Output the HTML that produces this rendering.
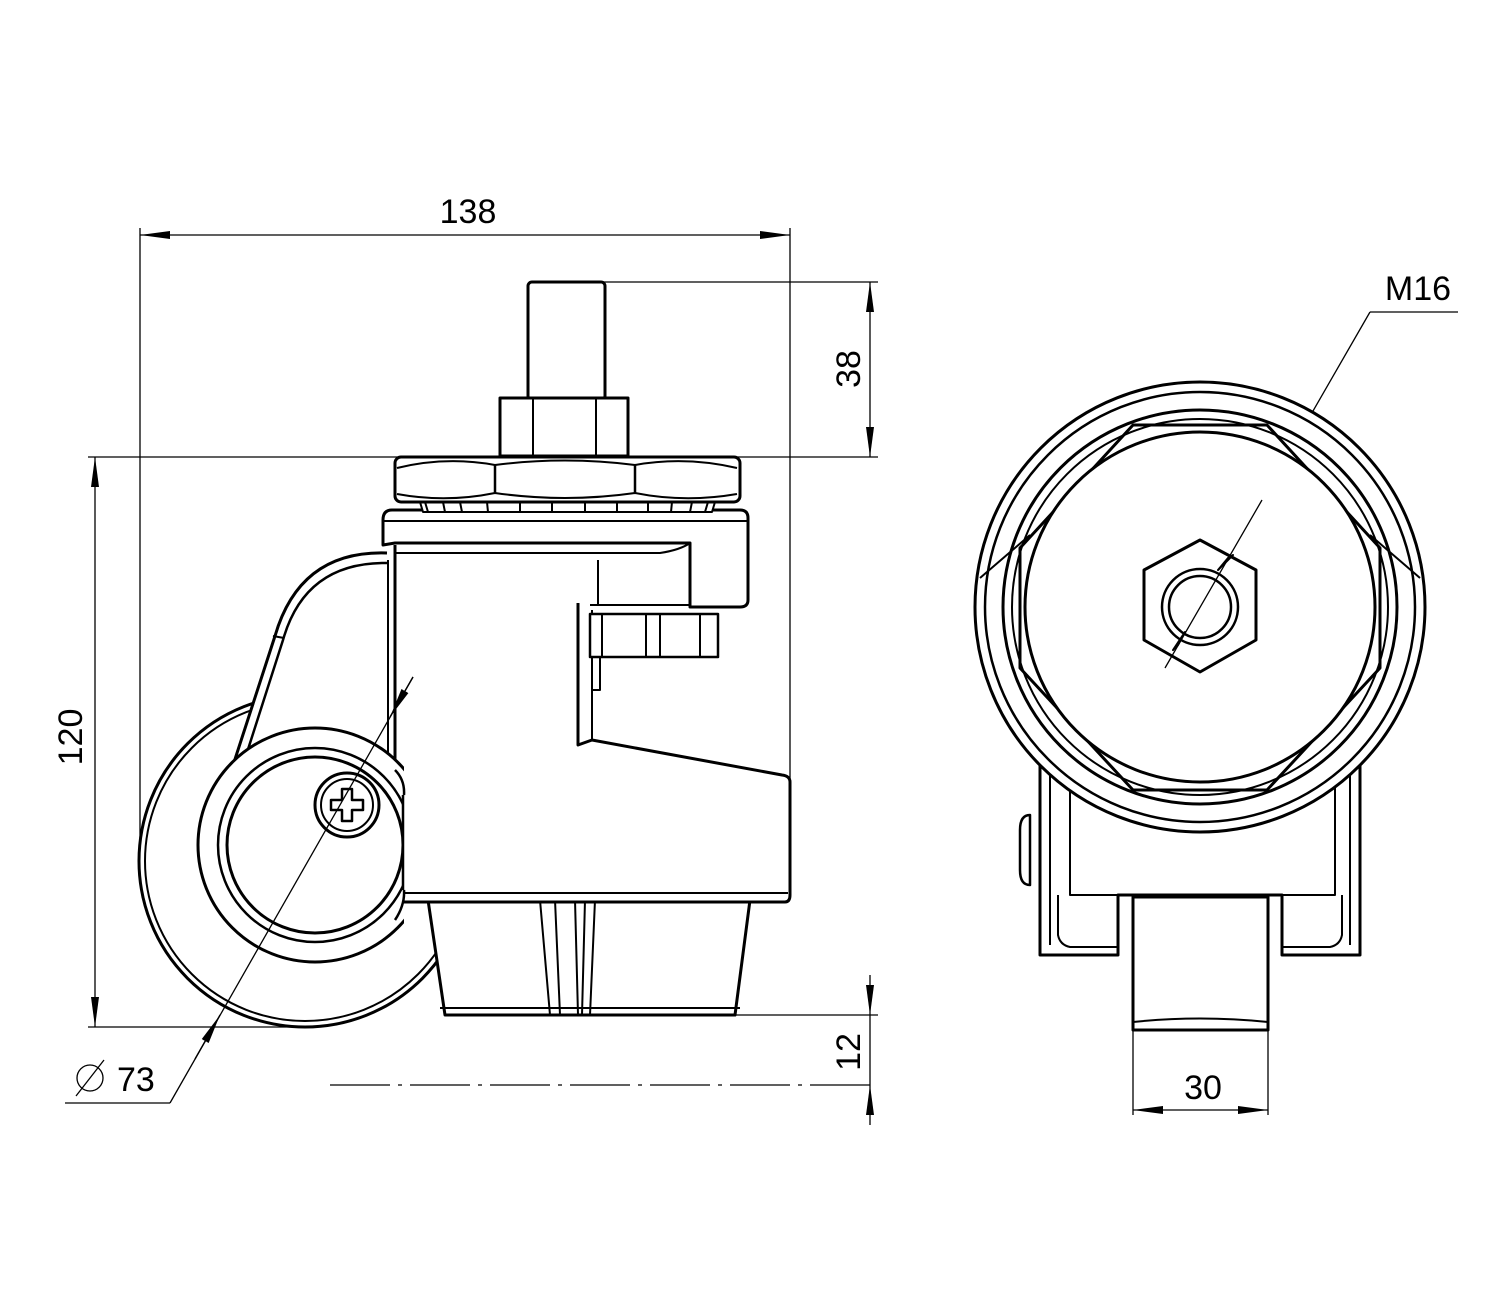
<!DOCTYPE html>
<html><head><meta charset="utf-8"><style>
html,body{margin:0;padding:0;background:#fff}
svg{display:block}
text{font-family:"Liberation Sans",sans-serif;font-size:34px;fill:#000}
</style></head><body>
<svg width="1500" height="1301" viewBox="0 0 1500 1301" xmlns="http://www.w3.org/2000/svg">
<defs>
<marker id="a" viewBox="0 0 30 10" refX="30" refY="5" markerWidth="30" markerHeight="10" markerUnits="userSpaceOnUse" orient="auto-start-reverse"><path d="M0,1 L30,5 L0,9 Z" fill="#000"/></marker>
<clipPath id="hc"><rect x="0" y="0" width="404" height="1301"/></clipPath>
</defs>
<g stroke="#000" stroke-width="1.3" fill="none">
<line x1="140" y1="228" x2="140" y2="860"/>
<line x1="790" y1="228" x2="790" y2="780"/>
<line x1="140" y1="235" x2="790" y2="235" marker-start="url(#a)" marker-end="url(#a)"/>
<line x1="540" y1="282" x2="878" y2="282"/>
<line x1="88" y1="457" x2="878" y2="457"/>
<line x1="870" y1="282" x2="870" y2="457" marker-start="url(#a)" marker-end="url(#a)"/>
<line x1="95" y1="457" x2="95" y2="1027" marker-start="url(#a)" marker-end="url(#a)"/>
<line x1="88" y1="1027" x2="310" y2="1027"/>
<line x1="720" y1="1015" x2="878" y2="1015"/>
<line x1="330" y1="1085" x2="878" y2="1085" stroke-dasharray="60 8 4 8"/>
<line x1="870" y1="975" x2="870" y2="1015" marker-end="url(#a)"/>
<line x1="870" y1="1125" x2="870" y2="1085" marker-end="url(#a)"/>
<line x1="870" y1="1015" x2="870" y2="1085"/>
<line x1="170" y1="1103" x2="65" y2="1103"/>
<circle cx="90" cy="1078" r="13"/><line x1="76" y1="1096" x2="104" y2="1060"/>
<line x1="1165" y1="668" x2="1370" y2="312"/>
<line x1="1370" y1="312" x2="1458" y2="312"/>
<line x1="1133" y1="1030" x2="1133" y2="1115"/>
<line x1="1268" y1="1030" x2="1268" y2="1115"/>
<line x1="1133" y1="1110" x2="1268" y2="1110" marker-start="url(#a)" marker-end="url(#a)"/>
</g>
<text x="468" y="223" text-anchor="middle">138</text>
<text transform="translate(860,369) rotate(-90)" text-anchor="middle">38</text>
<text transform="translate(82,737) rotate(-90)" text-anchor="middle">120</text>
<text transform="translate(860,1052) rotate(-90)" text-anchor="middle">12</text>
<text x="117" y="1091">73</text>
<text x="1418" y="300" text-anchor="middle">M16</text>
<text x="1203" y="1099" text-anchor="middle">30</text>

<g stroke="#000" stroke-width="3" fill="#fff" stroke-linejoin="round">
<!-- wheel -->
<circle cx="305" cy="861" r="166"/>
<circle cx="305" cy="861" r="160" stroke-width="2"/>
<!-- base -->
<path d="M428,900 L750,900 L735,1015 L445,1015 Z"/>
<line x1="440" y1="1008" x2="740" y2="1008" stroke-width="2"/>
<path d="M540,900 L550,1015 M555,900 L560,1015 M575,900 L578,1015 M585,900 L582,1015 M595,900 L590,1015" fill="none" stroke-width="2"/>
<!-- arm interior fill (hides wheel) -->
<path d="M387,553 Q300,555 275,636 L225,790 L300,790 L400,790 L400,553 Z" stroke="none"/>
<!-- body -->
<path d="M395,545 L395,902 L790,902 L790,780 L590,745 L590,603 L395,603 Z" stroke="none"/>
<path d="M395,545 L395,898 Q395,902 400,902 L785,902 Q790,902 790,895 L790,782 Q790,776 782,775 L592,740 L578,745 L578,603" fill="none"/>
<line x1="405" y1="893" x2="788" y2="893" stroke-width="2"/>
<line x1="388" y1="560" x2="388" y2="770" stroke-width="2"/>
<path d="M592,740 L592,610" fill="none" stroke-width="2"/>
<!-- arm band -->
<path d="M387,553 Q300,550 275,636 L225,790" fill="none"/>
<path d="M387,563 Q305,562 283,640 L235,790" fill="none" stroke-width="2.5"/>
<line x1="273" y1="636" x2="284" y2="638" stroke-width="2"/>
<!-- top plate -->
<path d="M392,510 L740,510 Q748,510 748,518 L748,600 Q748,607 740,607 L690,607 L690,543 L395,543 L383,545 L383,520 Q383,510 392,510 Z"/>
<line x1="383" y1="521" x2="748" y2="521" stroke-width="2"/>
<path d="M395,553 L660,553 Q680,550 690,543" fill="none" stroke-width="2"/>
<path d="M598,560 L598,605 M590,605 L690,605" fill="none" stroke-width="2"/>
<rect x="590" y="614" width="128" height="43" stroke-width="2.5"/>
<path d="M602,614 L602,657 M646,614 L646,657 M660,614 L660,657 M700,614 L700,657 M600,657 L600,690 L593,690" fill="none" stroke-width="2"/>
<!-- washer teeth -->
<path d="M420,502 L715,502 L712,512 L423,512 Z" stroke-width="2"/>
<path d="M425,502 L428,512 M443,502 L445,512 M460,502 L462,512 M487,502 L488,512 M520,502 L520,512 M552,502 L552,512 M585,502 L585,512 M617,502 L617,512 M648,502 L648,512 M672,502 L671,512 M692,502 L690,512 M708,502 L705,512" fill="none" stroke-width="2"/>
<!-- large nut -->
<rect x="395" y="457" width="345" height="45" rx="6"/>
<path d="M397,468 Q446,456 495,465 Q565,456 635,465 Q685,456 737,468" fill="none" stroke-width="2"/>
<path d="M397,494 Q446,503 495,493 Q565,503 635,493 Q685,503 737,494" fill="none" stroke-width="2"/>
<path d="M495,465 L495,493 M635,465 L635,493" fill="none" stroke-width="2.5"/>
<!-- stud & small nut -->
<rect x="528" y="282" width="77" height="118" rx="4"/>
<rect x="500" y="398" width="128" height="58"/>
<line x1="533" y1="398" x2="533" y2="456" stroke-width="2"/>
<line x1="596" y1="398" x2="596" y2="456" stroke-width="2"/>
<!-- hub -->
<g clip-path="url(#hc)">
<circle cx="315" cy="845" r="117"/>
<circle cx="315" cy="845" r="97" stroke-width="2.5"/>
<circle cx="315" cy="845" r="88"/>
</g>
<path d="M395,770 Q405,780 404,795 M395,920 Q405,905 404,890" fill="none" stroke-width="2.5"/>
<line x1="403" y1="795" x2="403" y2="890" stroke-width="2.5"/>
<circle cx="347" cy="805" r="32"/>
<circle cx="347" cy="805" r="26" stroke-width="2"/>
<path d="M342,789 h10 v11 h11 v10 h-11 v11 h-10 v-11 h-11 v-10 h11 Z" stroke-width="2.5"/>
</g>
<g stroke="#000" stroke-width="1.3" fill="none">
<line x1="413" y1="677" x2="170" y2="1103"/>
<line x1="413" y1="677" x2="390" y2="717" marker-end="url(#a)"/>
<line x1="195" y1="1059" x2="220" y2="1015" marker-end="url(#a)"/>
</g>

<g stroke="#000" stroke-width="3" fill="#fff" stroke-linejoin="round">
<!-- right view -->
<path d="M1040,760 L1040,955 L1118,955 L1118,895 L1282,895 L1282,955 L1360,955 L1360,760 Z"/>
<path d="M1050,775 L1050,945 M1350,775 L1350,945 M1070,780 L1070,895 L1335,895 L1335,780" fill="none" stroke-width="2"/>
<path d="M1058,895 L1058,935 Q1060,945 1070,947 L1118,947 M1342,895 L1342,935 Q1340,945 1330,947 L1282,947" fill="none" stroke-width="2"/>
<path d="M1030,815 Q1020,815 1020,830 L1020,870 Q1020,885 1030,885 Z" stroke-width="2.5"/>
<rect x="1133" y="897" width="135" height="133"/>
<path d="M1133,1022 Q1200,1015 1268,1022" fill="none" stroke-width="2"/>
<circle cx="1200" cy="607" r="225"/>
<circle cx="1200" cy="607" r="215" stroke-width="2.5"/>
<circle cx="1200" cy="607" r="197"/>
<circle cx="1200" cy="607" r="188" stroke-width="2"/>
<path d="M1133,425 L1267,425 L1380,548 L1380,668 L1267,790 L1133,790 L1020,668 L1020,548 Z" fill="none"/>
<line x1="980" y1="578" x2="1030" y2="535" stroke-width="2"/>
<line x1="1420" y1="578" x2="1370" y2="535" stroke-width="2"/>
<circle cx="1200" cy="607" r="175"/>
<polygon points="1200,540 1256,570 1256,640 1200,672 1144,640 1144,570"/>
<circle cx="1200" cy="607" r="38" stroke-width="2.5"/>
<circle cx="1200" cy="607" r="31" stroke-width="2.5"/>
<line x1="1165" y1="668" x2="1262" y2="500" stroke-width="1.3"/>
<path d="M1228,558 L1218,570 L1233,555 Z M1178,645 L1185,632 L1173,650 Z" fill="#000" stroke-width="2"/>
</g>
</svg>
</body></html>
